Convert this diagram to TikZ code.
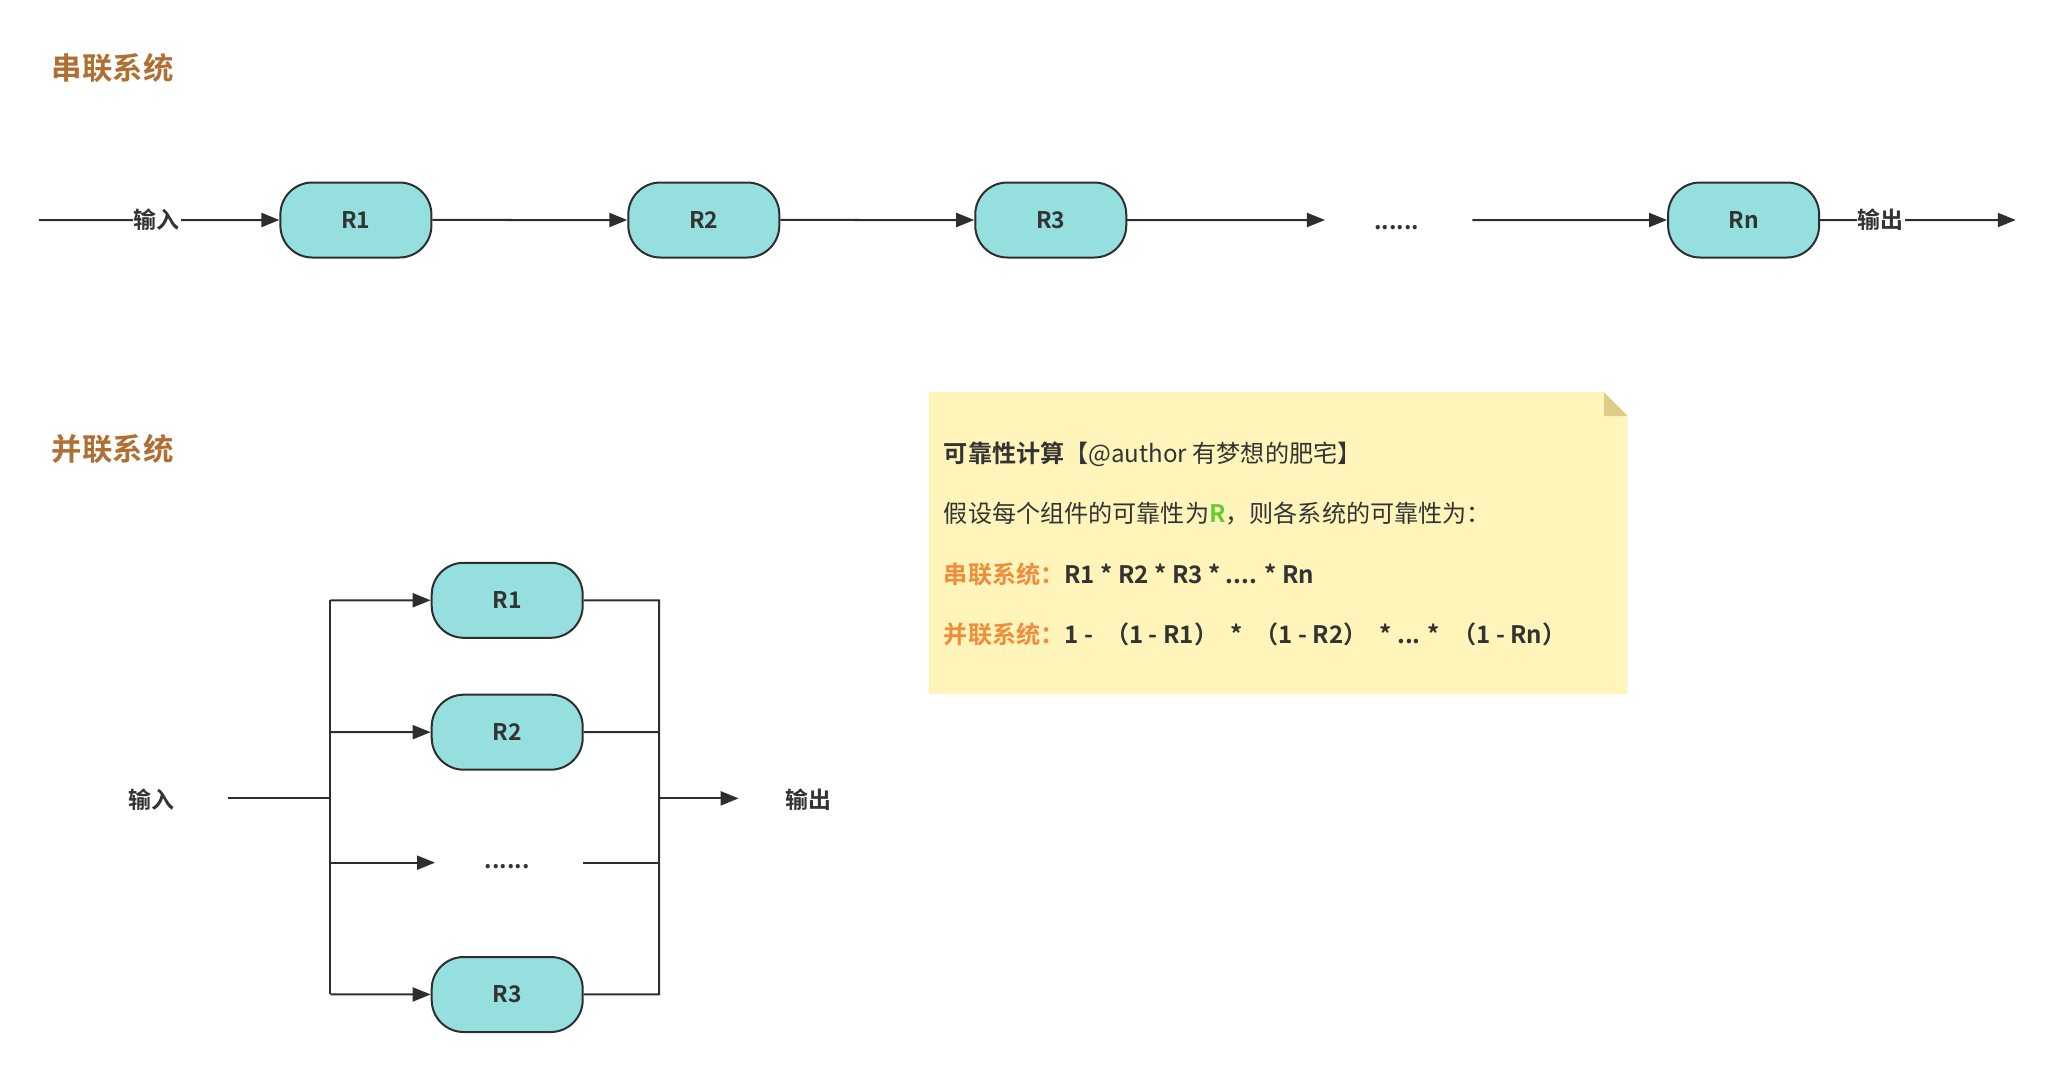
\documentclass[tikz,border=0pt]{standalone}
\usepackage{fontspec}
\setmainfont{Noto Sans CJK SC}[BoldFont={Noto Sans CJK SC Bold}]
\usetikzlibrary{arrows.meta}
\definecolor{boxfill}{HTML}{95E0DF}
\definecolor{linec}{HTML}{2E2E2E}
\definecolor{txt}{HTML}{333333}
\definecolor{titlec}{HTML}{AF6E32}
\definecolor{notefill}{HTML}{FFF5BB}
\definecolor{foldc}{HTML}{DFCC85}
\definecolor{orangec}{HTML}{F08C3C}
\definecolor{greenc}{HTML}{66CC33}
\begin{document}
\begin{tikzpicture}[x=1bp,y=-1bp,
  rbox/.style={draw=linec, fill=boxfill, line width=2bp, rounded corners=32bp,
    minimum width=151bp, minimum height=75bp,
    font=\fontsize{23}{26}\selectfont\bfseries, text=txt},
  conn/.style={draw=linec, line width=2bp},
  arr/.style={conn, -{Triangle[length=18bp,width=14bp]}},
  lbl/.style={font=\fontsize{23}{26}\selectfont\bfseries, text=txt, inner sep=1bp},
  title/.style={font=\fontsize{30.5}{34}\selectfont\bfseries, text=titlec, anchor=west, inner sep=0pt},
  notetext/.style={font=\fontsize{24.2}{28}\selectfont, text=txt, anchor=west, inner sep=0pt}]
\useasboundingbox[fill=white] (0,0) rectangle (2045,1069);
\begin{scope}[scale=0.9955]
% titles
\node[title] (t1) at (52,68) {串联系统};
\node[title] (t2) at (52,451) {并联系统};

% series system
\node[rbox] (s1) at (357.5,221) {R1};
\node[rbox] (s2) at (707,221) {R2};
\node[rbox] (s3) at (1055.5,221) {R3};
\node[rbox] (sn) at (1751.5,221) {Rn};
\node[lbl] (sdots) at (1403,229) {......};
\coordinate (sin) at (39,221);
\coordinate (send) at (1331,221);
\coordinate (sstart) at (1479,221);
\coordinate (sout) at (2025,221);
\draw[arr] (sin) -- node[lbl, fill=white, pos=0.49] (sinl) {输入} (s1);
\draw[arr] (s1) -- (s2);
\draw[arr] (s2) -- (s3);
\draw[arr] (s3) -- (send);
\draw[arr] (sstart) -- (sn);
\draw[arr] (sn) -- node[lbl, fill=white, pos=0.31] (soutl) {输出} (sout);

% parallel system
\node[rbox] (p1) at (509.5,603) {R1};
\node[rbox] (p2) at (509.5,735.5) {R2};
\node[lbl] (pdots) at (509.5,871) {......};
\node[rbox] (p3) at (509.5,999) {R3};
\node[lbl] (pinl) at (152,803) {输入};
\node[lbl] (poutl) at (812,803) {输出};
\coordinate (pin) at (229,802);
\coordinate (lb) at (332,802);
\coordinate (lt) at (332,603);
\coordinate (lm) at (332,735.5);
\coordinate (ld) at (332,866.6);
\coordinate (lbot) at (332,999);
\coordinate (dl) at (437,866.6);
\coordinate (dr) at (586,866.6);
\coordinate (rt) at (662,603);
\coordinate (rm) at (662,735.5);
\coordinate (rd) at (662,866.6);
\coordinate (rbot) at (662,999);
\coordinate (rout) at (662,802);
\coordinate (pout) at (742,802);
\draw[conn] (pin) -- (lb);
\draw[conn] (lt) -- (lbot);
\draw[arr] (lt) -- (p1);
\draw[arr] (lm) -- (p2);
\draw[arr] (ld) -- (dl);
\draw[arr] (lbot) -- (p3);
\draw[conn] (p1) -- (rt) -- (rbot) -- (p3);
\draw[conn] (p2) -- (rm);
\draw[conn] (dr) -- (rd);
\draw[arr] (rout) -- (pout);

% note
\path[fill=notefill] (933,394) -- (1611,394) -- (1635,418) -- (1635,697) -- (933,697) -- cycle;
\path[fill=foldc] (1611,394) -- (1611,418) -- (1635,418) -- cycle;
\node[notetext] (n1) at (948,456) {\textbf{可靠性计算}【@author 有梦想的肥宅】};
\node[notetext] (n2) at (948,516) {假设每个组件的可靠性为\textcolor{greenc}{\textbf{R}}，则各系统的可靠性为：};
\node[notetext] (n3) at (948,577) {\textcolor{orangec}{\textbf{串联系统：}}\textbf{R1 * R2 * R3 * .... * Rn}};
\node[notetext] (n4) at (948,637) {\textcolor{orangec}{\textbf{并联系统：}}\textbf{1 -\enspace（1 - R1）\enspace*\enspace（1 - R2）\enspace* ... *\enspace（1 - Rn）}};
\end{scope}
\end{tikzpicture}
\end{document}
